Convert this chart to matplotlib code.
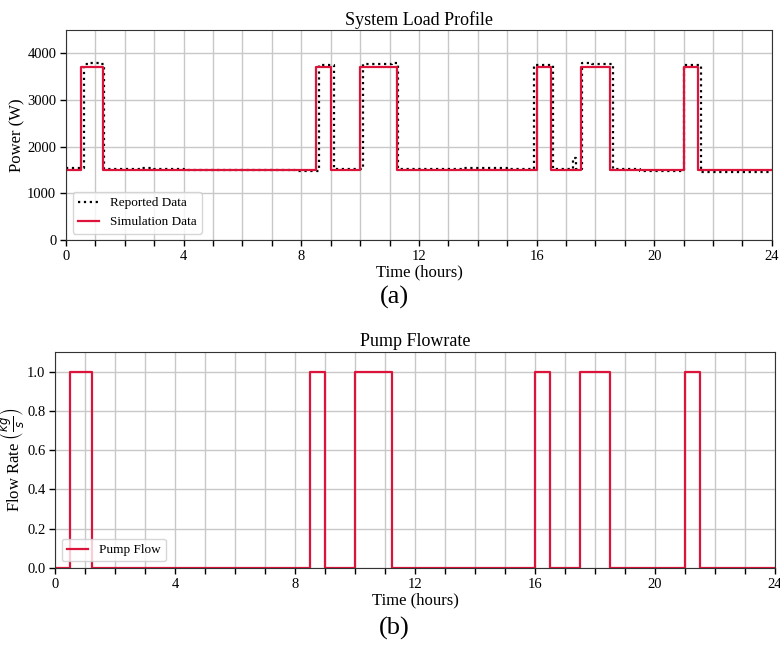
import matplotlib
matplotlib.use("Agg")
import matplotlib.pyplot as plt
from matplotlib.ticker import MultipleLocator

plt.rcParams["font.family"] = ["Liberation Serif", "DejaVu Serif"]
plt.rcParams["mathtext.fontset"] = "dejavusans"

# ── data ────────────────────────────────────────────────────────────────────
# reported load (step series, W)
rep_t = [0, 0.6, 0.8, 1.0, 1.15, 1.3, 2.5, 3.0, 4.0, 7.8, 8.6, 8.8, 9.1,
         10.1, 10.6, 11.1, 11.3, 13.5, 15.0, 15.9, 16.55, 17.25, 17.35,
         17.55, 17.9, 18.6, 19.5, 21.0, 21.6, 24]
rep_p = [1540, 3780, 3790, 3800, 3770, 1520, 1540, 1530, 1500, 1480, 3750, 3760, 1530,
         3770, 3780, 3790, 1530, 1540, 1530, 3760, 1520, 1750, 1520,
         3790, 3770, 1520, 1480, 3760, 1470, 1470]

# simulated load (step series, W)
sim_t = [0, 0.5, 1.25, 8.5, 9.0, 10.0, 11.25, 16.0, 16.5, 17.5, 18.5, 21.0, 21.5, 24]
sim_p = [1500, 3700, 1500, 3700, 1500, 3700, 1500, 3700, 1500, 3700, 1500, 3700, 1500, 1500]

# pump flow (step series, kg/s)
pump_t = sim_t
pump_q = [0, 1, 0, 1, 0, 1, 0, 1, 0, 1, 0, 1, 0, 0]

RED = "#dc143c"

fig = plt.figure(figsize=(7.8, 6.49), dpi=100)
ax1 = fig.add_axes([0.0846, 0.630, 0.905, 0.3236])
ax2 = fig.add_axes([0.0705, 0.1248, 0.923, 0.3328])


def _style(ax):
    ax.set_xlim(0, 24)
    ax.xaxis.set_major_locator(MultipleLocator(4))
    ax.xaxis.set_minor_locator(MultipleLocator(1))
    ax.grid(True, which="both", color="#c8c8c8", linewidth=1.0)
    ax.set_axisbelow(True)
    ax.tick_params(which="both", labelsize=10.5, length=4, width=1, pad=3)
    for s in ax.spines.values():
        s.set_color("#333333")
    ax.set_xlabel("Time (hours)", fontsize=12, labelpad=1)


# (a) system load
ax1.step(rep_t, rep_p, where="post", color="black", linestyle=":", linewidth=1.6,
         label="Reported Data")
ax1.step(sim_t, sim_p, where="post", color=RED, linewidth=1.6, label="Simulation Data")
_style(ax1)
ax1.set_ylim(0, 4500)
ax1.yaxis.set_major_locator(MultipleLocator(1000))
ax1.set_ylabel("Power (W)", fontsize=12)
ax1.yaxis.set_label_coords(-0.058, 0.5)
ax1.set_title("System Load Profile", fontsize=13, pad=4)
ax1.legend(loc="lower left", fontsize=9.5, handlelength=1.6, edgecolor="#cccccc",
           fancybox=True)
fig.text(0.506, 0.541, "(a)", ha="center", va="center", fontsize=19)

# (b) pump flow
ax2.step(pump_t, pump_q, where="post", color=RED, linewidth=1.6, label="Pump Flow")
_style(ax2)
ax2.set_ylim(0, 1.1)
ax2.yaxis.set_major_locator(MultipleLocator(0.2))
ax2.set_ylabel(r"Flow Rate $\left(\frac{kg}{s}\right)$", fontsize=12)
ax2.yaxis.set_label_coords(-0.039, 0.5)
ax2.set_title("Pump Flowrate", fontsize=13, pad=4)
ax2.legend(loc="lower left", fontsize=9.5, handlelength=1.6, edgecolor="#cccccc",
           fancybox=True)
fig.text(0.506, 0.032, "(b)", ha="center", va="center", fontsize=19)

fig.savefig("out.png", dpi=100, facecolor="white")
plt.close(fig)
